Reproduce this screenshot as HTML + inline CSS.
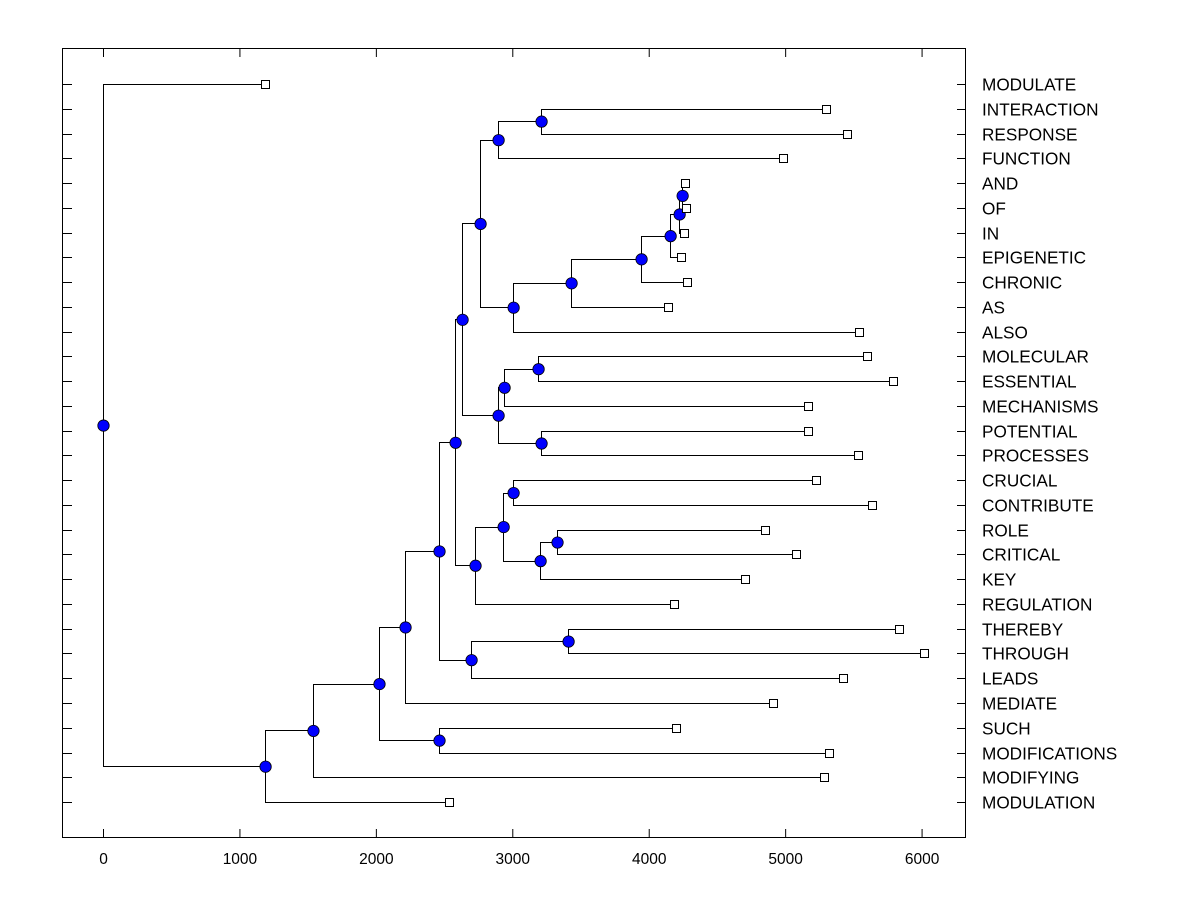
<!DOCTYPE html>
<html><head><meta charset="utf-8"><style>
body{margin:0;background:#fff;}
svg{display:block;font-family:"Liberation Sans",Arial,sans-serif;}
</style></head><body>
<svg id="chart" width="1200" height="900" xmlns="http://www.w3.org/2000/svg">
<rect x="0" y="0" width="1200" height="900" fill="#fff"/>
<g id="marks"></g>
<rect x="62.5" y="48.5" width="903" height="789" fill="none" stroke="#000" stroke-width="1"/>
<g id="axes"></g>
</svg>
<script>
const labels = ["MODULATE","INTERACTION","RESPONSE","FUNCTION","AND","OF","IN","EPIGENETIC","CHRONIC","AS","ALSO","MOLECULAR","ESSENTIAL","MECHANISMS","POTENTIAL","PROCESSES","CRUCIAL","CONTRIBUTE","ROLE","CRITICAL","KEY","REGULATION","THEREBY","THROUGH","LEADS","MEDIATE","SUCH","MODIFICATIONS","MODIFYING","MODULATION"];
const leafValues = [1188,5300,5455,4985,4267,4274,4260,4237,4282,4142,5543,5601,5792,5169,5169,5535,5227,5638,4853,5081,4707,4186,5836,6019,5425,4912,4201,5323,5286,2537];
// merges: [childA, childB, height]; leaves are "L<i>", internal nodes "N<k>"
const merges = [
 ["L4","L5",4245],
 ["N0","L6",4223],
 ["N1","L7",4157],
 ["N2","L8",3944],
 ["N3","L9",3431],
 ["N4","L10",3006],
 ["L1","L2",3211],
 ["N6","L3",2896],
 ["N7","N5",2764],
 ["L11","L12",3189],
 ["N9","L13",2940],
 ["L14","L15",3211],
 ["N10","N11",2896],
 ["N8","N12",2632],
 ["L16","L17",3006],
 ["L18","L19",3328],
 ["N15","L20",3204],
 ["N14","N16",2933],
 ["N17","L21",2727],
 ["N13","N18",2581],
 ["L22","L23",3409],
 ["N20","L24",2698],
 ["N19","N21",2463],
 ["N22","L25",2214],
 ["L26","L27",2463],
 ["N23","N24",2023],
 ["N25","L28",1539],
 ["N26","L29",1188],
 ["L0","N27",0]
];
const xTicks = [0,1000,2000,3000,4000,5000,6000];

const NS="http://www.w3.org/2000/svg";
const X0=103, XS=0.13643, Y0=84, YS=24.76;
function xScale(v){return X0+v*XS;}
function yScale(i){return Y0+i*YS;}
const marks=document.getElementById('marks'), axes=document.getElementById('axes');
function mk(tag,attrs,parent){const e=document.createElementNS(NS,tag);for(const k in attrs)e.setAttribute(k,attrs[k]);parent.appendChild(e);return e;}

xTicks.forEach(t=>{
  const x=xScale(t)+0.5;
  let l=mk('line',{x1:x,x2:x,y1:837,y2:829,stroke:'#000'},axes);
  
  
  l=mk('line',{x1:x,x2:x,y1:49,y2:57,stroke:'#000'},axes);
  
  
  const tx=mk('text',{x:x,y:864,'text-anchor':'middle','font-size':'15.5'},axes);
  tx.textContent=t;
  
  
});
labels.forEach((lab,i)=>{
  const y=Math.round(yScale(i))+0.5;
  let l=mk('line',{x1:62,x2:72,y1:y,y2:y,stroke:'#000'},axes);
  
  
  l=mk('line',{x1:957,x2:966,y1:y,y2:y,stroke:'#000'},axes);
  
  
  const tx=mk('text',{x:982,y:y+6,'font-size':'17.2'},axes);
  tx.textContent=lab;
  
  
});

const pos={};
labels.forEach((lab,i)=>{pos['L'+i]={x:xScale(leafValues[i]),y:yScale(i)};});
merges.forEach((m,k)=>{
  const a=pos[m[0]],b=pos[m[1]];
  pos['N'+k]={x:xScale(m[2]),y:(a.y+b.y)/2};
});
const lineG=mk('g',{},marks), nodeG=mk('g',{},marks);
merges.forEach((m,k)=>{
  const p=pos['N'+k],a=pos[m[0]],b=pos[m[1]];
  const px=Math.round(p.x)+0.5, ay=Math.round(a.y)+0.5, by=Math.round(b.y)+0.5;
  const pl=mk('polyline',{points:`${Math.round(a.x)},${ay} ${px},${ay} ${px},${by} ${Math.round(b.x)},${by}`,fill:'none',stroke:'#000','stroke-width':1},lineG);
  
  
  const c=mk('circle',{cx:p.x+0.5,cy:p.y+0.5,r:5.7,fill:'#0000ff',stroke:'#000','stroke-width':0.8},nodeG);
  
  
});
labels.forEach((lab,i)=>{
  const p=pos['L'+i];
  const r=mk('rect',{x:Math.round(p.x)-3.5,y:Math.round(p.y)-3.5,width:8,height:8,fill:'#fff',stroke:'#000','stroke-width':1},nodeG);
  
  
});
</script>
</body></html>
